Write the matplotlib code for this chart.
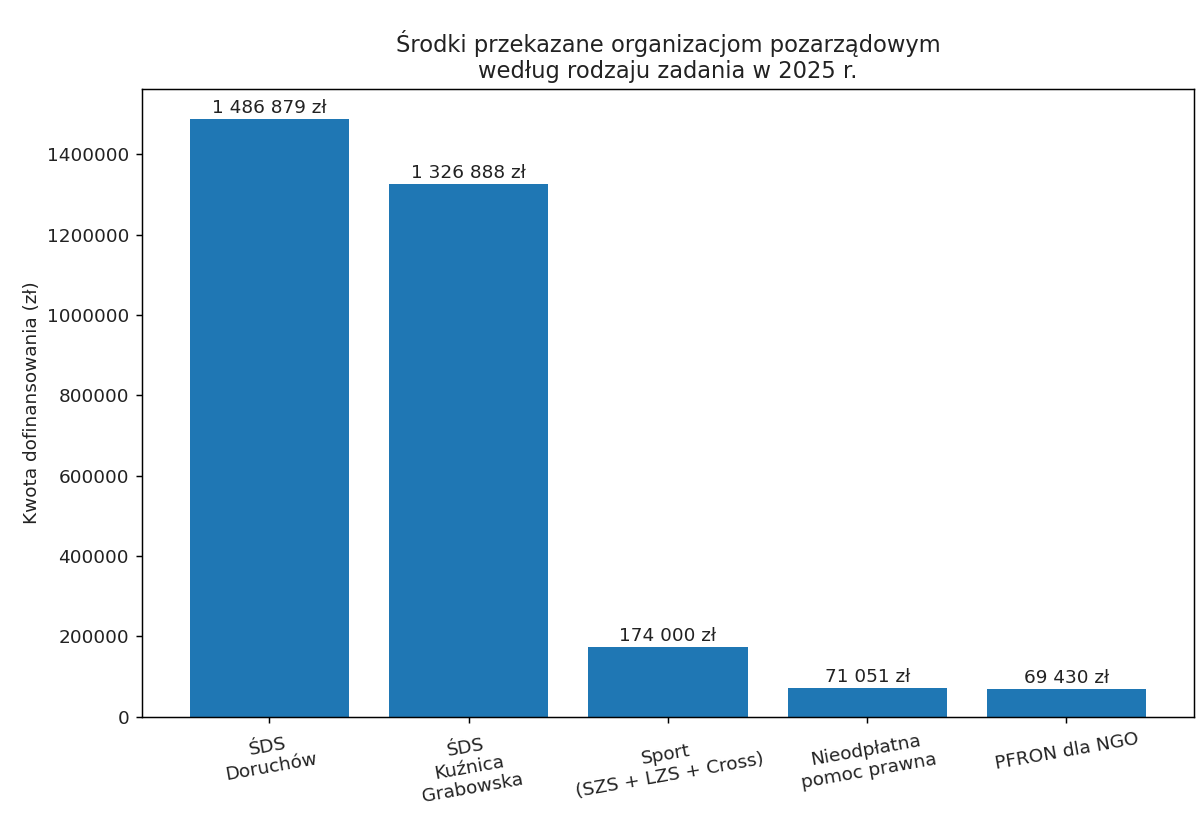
import matplotlib
matplotlib.use("Agg")
import matplotlib.pyplot as plt

categories = ["ŚDS\nDoruchów", "ŚDS\nKuźnica\nGrabowska", "Sport\n(SZS + LZS + Cross)",
              "Nieodpłatna\npomoc prawna", "PFRON dla NGO"]
amounts = [1486879, 1326888, 174000, 71051, 69430]
yticks = [0, 200000, 400000, 600000, 800000, 1000000, 1200000, 1400000]

s = 1.33  # reference looks rendered at ~133 dpi and scaled
plt.rcParams.update({
    "axes.linewidth": 0.8 * s,
    "xtick.major.size": 3.5 * s, "ytick.major.size": 3.5 * s,
    "xtick.major.width": 0.8 * s, "ytick.major.width": 0.8 * s,
    "xtick.major.pad": 3.5 * s, "ytick.major.pad": 3.5 * s,
})

fig, ax = plt.subplots(figsize=(11.96, 8.18), dpi=100)
fig.subplots_adjust(left=0.1187, right=0.9983, top=0.8906, bottom=0.1238)

bars = ax.bar(range(len(categories)), amounts, color="#1f77b4", width=0.8)
for b, v in zip(bars, amounts):
    ax.annotate(f"{v:,}".replace(",", " ") + " zł",
                (b.get_x() + b.get_width() / 2, v),
                xytext=(0, 1.5), textcoords="offset points",
                ha="center", va="bottom", fontsize=10 * s, color="#222222")

ax.set_xticks(range(len(categories)))
ax.set_xticklabels(categories, rotation=10, ha="center", fontsize=10 * s, color="#222222")
ax.set_yticks(yticks)
ax.set_yticklabels([str(t) for t in yticks], fontsize=10 * s, color="#222222")
ax.set_ylabel("Kwota dofinansowania (zł)", fontsize=10 * s, color="#222222")
ax.set_title("Środki przekazane organizacjom pozarządowym\nwedług rodzaju zadania w 2025 r.",
             fontsize=16.3, color="#222222", pad=8)

fig.savefig("out.png", dpi=100)
